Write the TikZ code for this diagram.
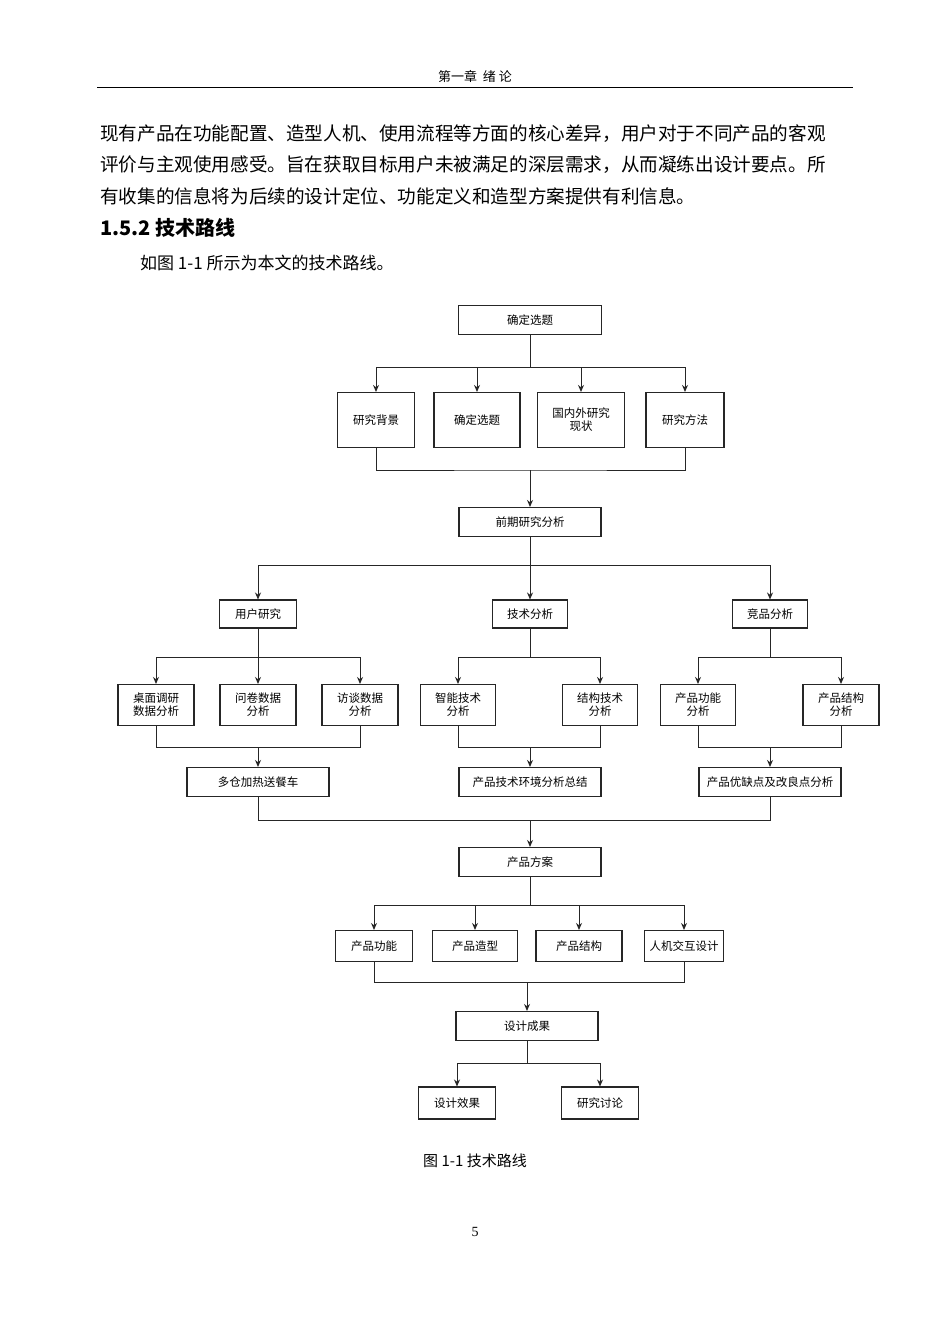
\documentclass[tikz,border=0pt]{standalone}
\usepackage{fontspec}
\setmainfont{Liberation Serif}
\newfontfamily\cjk{Noto Sans CJK SC}
\usetikzlibrary{arrows.meta}
\begin{document}
\begin{tikzpicture}[x=1pt,y=-1pt,
  bx/.style={draw=black!85,line width=1.1pt,fill=white,minimum width=#1,align=center,inner sep=1pt,font=\cjk\fontsize{11.5}{13}\selectfont},
  bx/.default=77pt,
  ln/.style={line width=0.9pt,draw=black!85},
  ar/.style={ln,-{Stealth[length=7pt,width=6pt]}},
  body/.style={anchor=west,inner sep=0,font=\cjk\fontsize{18.6}{20}\selectfont}]
\useasboundingbox (0,0) rectangle (950,1344);
\fill[white] (0,0) rectangle (950,1344);
% page text
\node[font=\cjk\fontsize{13}{15}\selectfont] (hdr) at (475,76) {第一章\ \ 绪\ 论};
\draw[line width=0.8pt] (97,87) -- (853,87);
\node[body] (p1) at (100,134) {现有产品在功能配置、造型人机、使用流程等方面的核心差异，用户对于不同产品的客观};
\node[body] (p2) at (100,165) {评价与主观使用感受。旨在获取目标用户未被满足的深层需求，从而凝练出设计要点。所};
\node[body] (p3) at (100,196) {有收集的信息将为后续的设计定位、功能定义和造型方案提供有利信息。};
\node[anchor=west,inner sep=0,font=\cjk\bfseries\fontsize{20}{22}\selectfont] (h) at (100,228) {1.5.2 技术路线};
\node[body,font=\cjk\fontsize{17}{19}\selectfont] (p4) at (140,263) {如图 1-1 所示为本文的技术路线。};
\node[font=\cjk\fontsize{15}{17}\selectfont] (cap) at (475,1161) {图 1-1 技术路线};
\node[font=\fontsize{14}{16}\selectfont] (pg) at (475,1232) {5};
% diagram
\node[bx=143pt,minimum height=29pt] (a) at (530,320) {确定选题};
\node[bx=77pt,minimum height=55pt] (b1) at (376,420) {研究背景};
\node[bx=86pt,minimum height=55pt] (b2) at (477,420) {确定选题};
\node[bx=87pt,minimum height=55pt] (b3) at (581,420) {国内外研究\\现状};
\node[bx=78pt,minimum height=55pt] (b4) at (685,420) {研究方法};
\node[bx=142pt,minimum height=29pt] (c) at (530,522) {前期研究分析};
\node[bx=77pt,minimum height=28pt] (u) at (258,614) {用户研究};
\node[bx=75pt,minimum height=28pt] (t) at (530,614) {技术分析};
\node[bx=75pt,minimum height=28pt] (k) at (770,614) {竞品分析};
\node[bx=76pt,minimum height=41pt] (u1) at (156,705) {桌面调研\\数据分析};
\node[bx=76pt,minimum height=41pt] (u2) at (258,705) {问卷数据\\分析};
\node[bx=76pt,minimum height=41pt] (u3) at (360,705) {访谈数据\\分析};
\node[bx=75pt,minimum height=41pt] (t1) at (458,705) {智能技术\\分析};
\node[bx=75pt,minimum height=41pt] (t2) at (600,705) {结构技术\\分析};
\node[bx=75pt,minimum height=41pt] (k1) at (698,705) {产品功能\\分析};
\node[bx=76pt,minimum height=41pt] (k2) at (841,705) {产品结构\\分析};
\node[bx=142pt,minimum height=29pt] (us) at (258,782) {多仓加热送餐车};
\node[bx=142pt,minimum height=29pt] (ts) at (530,782) {产品技术环境分析总结};
\node[bx=142pt,minimum height=29pt] (ks) at (770,782) {产品优缺点及改良点分析};
\node[bx=142pt,minimum height=29pt] (d) at (530,862) {产品方案};
\node[bx=77pt,minimum height=31pt] (d1) at (374,946) {产品功能};
\node[bx=85pt,minimum height=31pt] (d2) at (475,946) {产品造型};
\node[bx=86pt,minimum height=31pt] (d3) at (579,946) {产品结构};
\node[bx=79pt,minimum height=31pt] (d4) at (684,946) {人机交互设计};
\node[bx=142pt,minimum height=29pt] (e) at (527,1026) {设计成果};
\node[bx=77pt,minimum height=32pt] (e1) at (457,1103) {设计效果};
\node[bx=77pt,minimum height=32pt] (e2) at (600,1103) {研究讨论};
% connectors
\coordinate (j1) at (530,367);
\draw[ln] (a.south) -- (j1);
\foreach \n in {b1,b2,b3,b4}{\draw[ar] (j1 -| \n) -- (\n.north);}
\draw[ln] (376,367) -- (685,367);
\draw[ln] (b1.south) |- (530,470) -| (b4.south);
\draw[ar] (530,470) -- (c.north);
\draw[ln] (c.south) -- (530,565);
\draw[ln] (258,565) -- (770,565);
\foreach \n in {u,t,k}{\draw[ar] (\n.north |- 0,565) -- (\n.north);}
% groups
\foreach \p/\x/\y/\s in {u/u1/u3/us,t/t1/t2/ts,k/k1/k2/ks}{
  \draw[ln] (\p.south) -- (\p.south |- 0,657);
  \draw[ln] (\x.north |- 0,657) -- (\y.north |- 0,657);
  \draw[ar] (\x.north |- 0,657) -- (\x.north);
  \draw[ar] (\y.north |- 0,657) -- (\y.north);
  \draw[ln] (\x.south) |- (\y.south |- 0,747) -- (\y.south);
  \draw[ar] (\s.north |- 0,747) -- (\s.north);
}
\draw[ar] (u2.north |- 0,657) -- (u2.north);
\draw[ln] (us.south) |- (ks.south |- 0,820) -- (ks.south);
\draw[ar] (530,820) -- (d.north);
\draw[ln] (d.south) -- (530,905);
\draw[ln] (374,905) -- (684,905);
\foreach \n in {d1,d2,d3,d4}{\draw[ar] (\n.north |- 0,905) -- (\n.north);}
\draw[ln] (d1.south) |- (d4.south |- 0,982) -- (d4.south);
\draw[ar] (527,982) -- (e.north);
\draw[ln] (e.south) -- (527,1063);
\draw[ln] (457,1063) -- (600,1063);
\draw[ar] (457,1063) -- (e1.north);
\draw[ar] (600,1063) -- (e2.north);
\end{tikzpicture}
\end{document}
